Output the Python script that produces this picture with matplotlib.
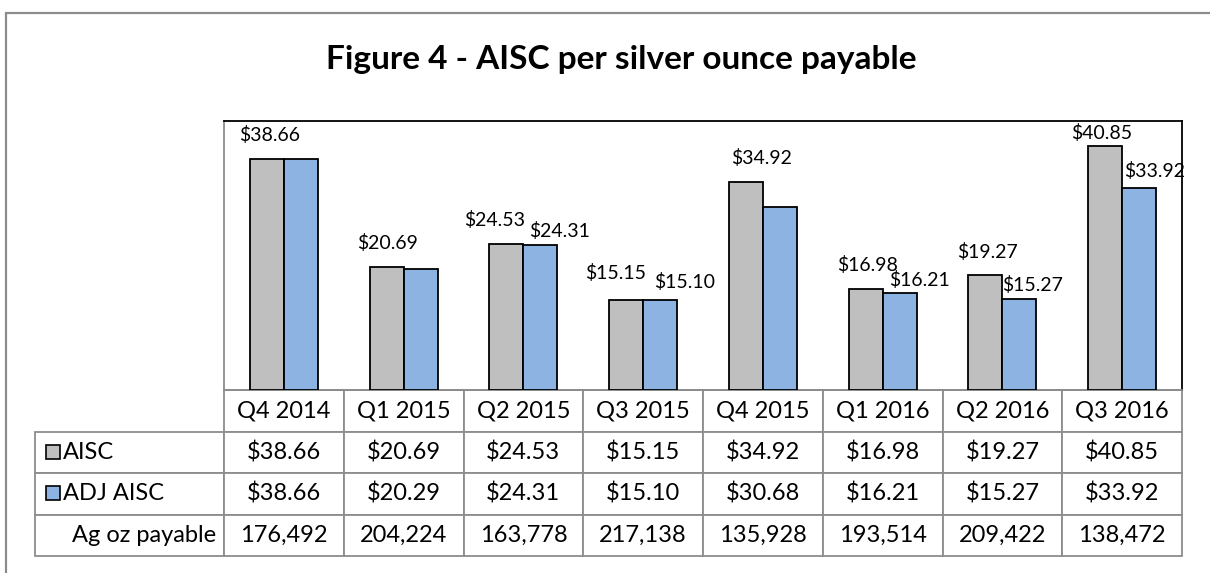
import matplotlib.pyplot as plt
import numpy as np
from matplotlib.patches import Rectangle

plt.rcParams['font.family'] = ['Lato', 'DejaVu Sans']

# data
quarters = ['Q4 2014', 'Q1 2015', 'Q2 2015', 'Q3 2015',
            'Q4 2015', 'Q1 2016', 'Q2 2016', 'Q3 2016']
aisc = [38.66, 20.69, 24.53, 15.15, 34.92, 16.98, 19.27, 40.85]
adj_aisc = [38.66, 20.29, 24.31, 15.10, 30.68, 16.21, 15.27, 33.92]
ag_oz = [176492, 204224, 163778, 217138, 135928, 193514, 209422, 138472]

# which bar labels are shown above the bars (Excel hid some)
show_aisc_label = [True] * 8
show_adj_label = [False, False, True, True, False, True, True, True]

# hand-placed label offsets (pixels, from top centre of bar)
aisc_lab_dx = [3, 1, -12, -11, 16, 2, 2, -3]
aisc_lab_dy = [24, 24, 24, 27, 24, 24, 23, 13]
adj_lab_dx = [0, 0, 19, 24, 0, 20, 13, 15]
adj_lab_dy = [0, 0, 14, 18, 0, 13, 14, 17]

GRAY = '#BFBFBF'
BLUE = '#8DB3E2'
GRID = '#8C8C8C'

W, H = 1210, 573
fig = plt.figure(figsize=(W / 100, H / 100), dpi=100)

# outer frame of the chart
fig.patches.append(Rectangle((6 / W, -0.1), 1.2, (H - 13) / H + 0.1,
                             transform=fig.transFigure, fill=False,
                             edgecolor=GRID, linewidth=1.6))

fig.text(621 / W, 1 - 60 / H, 'Figure 4 - AISC per silver ounce payable',
         ha='center', va='center', fontsize=24, fontweight='bold')

# plot area in pixels: x 224..1182, y 121..390
ax = fig.add_axes([224 / W, 1 - 390 / H, (1182 - 224) / W, (390 - 121) / H])

x = np.arange(len(quarters))
bw = 0.284
bars1 = ax.bar(x - bw / 2, aisc, bw, color=GRAY, edgecolor='black', linewidth=1.3, zorder=3)
bars2 = ax.bar(x + bw / 2, adj_aisc, bw, color=BLUE, edgecolor='black', linewidth=1.3, zorder=3)

for i, b in enumerate(bars1):
    if show_aisc_label[i]:
        ax.annotate(f'${aisc[i]:.2f}', (b.get_x() + b.get_width() / 2, b.get_height()),
                    xytext=(aisc_lab_dx[i], aisc_lab_dy[i]), textcoords='offset pixels',
                    ha='center', va='center', fontsize=14, annotation_clip=False)
for i, b in enumerate(bars2):
    if show_adj_label[i]:
        ax.annotate(f'${adj_aisc[i]:.2f}', (b.get_x() + b.get_width() / 2, b.get_height()),
                    xytext=(adj_lab_dx[i], adj_lab_dy[i]), textcoords='offset pixels',
                    ha='center', va='center', fontsize=14, annotation_clip=False)

ax.set_xlim(-0.5, len(quarters) - 0.5)
ax.set_ylim(0, 45.1)
ax.set_xticks([])
ax.set_yticks([])
for side in ['top', 'right']:
    ax.spines[side].set_color('black')
    ax.spines[side].set_linewidth(1.3)
for side in ['left', 'bottom']:
    ax.spines[side].set_color(GRID)
    ax.spines[side].set_linewidth(1.3)

# data table under the plot area
cell_text = [[f'${v:.2f}' for v in aisc],
             [f'${v:.2f}' for v in adj_aisc],
             [f'{v:,}' for v in ag_oz]]
row_labels = ['AISC', 'ADJ AISC', 'Ag oz payable']

ax_h = 390 - 121
tbl_h = (556 - 390) / ax_h
tbl = ax.table(cellText=cell_text, colLabels=quarters, rowLabels=row_labels,
               colWidths=[1 / 8] * 8, cellLoc='center', bbox=[0, -tbl_h, 1, tbl_h])
tbl.auto_set_font_size(False)
tbl._autoColumns = []
for (r, c), cell in tbl.get_celld().items():
    cell.set_edgecolor(GRID)
    cell.set_linewidth(1.3)
    cell.get_text().set_fontsize(17)
    if c == -1:
        cell.set_width((225 - 36) / (1182 - 224))
        if r in (1, 2):
            cell.get_text().set_ha('left')
            cell.PAD = 28 / 189
        else:
            cell.get_text().set_ha('right')
            cell.PAD = 8 / 189

# legend keys in front of the AISC / ADJ AISC row labels
for row_y, col in [(452, GRAY), (493, BLUE)]:
    fig.patches.append(Rectangle((46 / W, 1 - (row_y + 7) / H), 14 / W, 14 / H,
                                 transform=fig.transFigure, facecolor=col,
                                 edgecolor='black', linewidth=1.2))

fig.savefig('out.png', dpi=100)
